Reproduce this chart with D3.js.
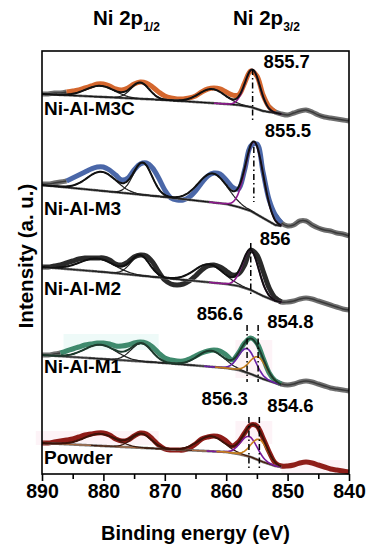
<!DOCTYPE html>
<html><head><meta charset="utf-8">
<script src="https://cdn.jsdelivr.net/npm/d3@7/dist/d3.min.js"></script>
<style>
body{margin:0;background:#fff}
svg{display:block}
text{font-family:"Liberation Sans",Arial,Helvetica,sans-serif;font-weight:bold;fill:#000}
</style>
</head><body>
<svg id="chart" width="370" height="550"></svg>
<script>
// ---------------- DATA ----------------
const energy = [890,889,888,887,886,885,884,883,882,881,880,879,878,877,876,875,874,873,872,871,870,869,868,867,866,865,864,863,862,861,860,859,858,857,856,855,854,853,852,851,850,849,848,847,846,845,844,843,842,841,840];
const sampleNames = ["Ni-Al-M3C","Ni-Al-M3","Ni-Al-M2","Ni-Al-M1","Powder"];

// raw spectra (stacked, arbitrary units)
const dataM3C = [380,380,381,381,382,383,384,386,388,390,390,388,385,384,386,390,392,391,387,382,378,376,375,375,376,378,382,385,386,385,382,379,379,391,403,398,379,367,362,360,359,361,363,364,362,359,357,356,355,354,353];
const dataM3  = [290,290,291,292,293,296,299,302,305,307,307,304,299,294,296,304,310,311,306,296,284,276,274,274,277,283,291,298,301,300,294,287,285,304,328,330,302,274,259,251,248,249,253,253,249,246,244,243,241,240,238];
const dataM2  = [207,207,208,209,211,213,215,216,216,216,216,214,210,209,212,217,219,218,212,202,194,190,189,190,193,198,204,208,209,207,203,199,200,209,224,219,203,186,176,172,172,173,175,176,175,173,171,169,167,165,164];
const dataM1  = [119,119,120,121,123,125,127,129,130,131,131,130,128,128,129,131,132,131,127,121,116,114,113,113,115,118,121,123,124,123,119,114,121,131,136,131,116,101,93,90,89,90,92,93,92,90,88,86,85,84,83];
const dataPowder = [31,31,32,33,34,35,37,39,40,41,41,39,35,33,34,38,41,40,35,29,25,24,24,24,26,30,35,37,38,37,33,28,32,41,49,48,36,22,11,8,8,9,11,12,11,9,7,5,4,3,2];

// Shirley-type backgrounds
const bgEnergy = [890,880,870,860,858,856,854,852,851];
const bgM3C = [380,377,374,370,369,367,363,361,360];
const bgM3  = [289,283,277,270,267,263,256,249,248];
const bgM2  = [207,202,196,190,188,184,178,173,172];
const bgM1  = [119,115,111,106,104,100,95,91,89];
const bgPowder = [31,28,25,22,20,17,12,8,7];

// fitted components: centre (eV), height (a.u.), FWHM (eV)
const peakCentreM3C = [880.5,874.0,862.3,855.7];
const peakHeightM3C = [11,16,14,38];
const peakFwhmM3C   = [5.5,3.5,5.0,2.9];
const peakCentreM3 = [880.3,873.6,862.2,855.4];
const peakHeightM3 = [19,32,29,71];
const peakFwhmM3   = [5.5,3.6,5.5,3.4];
const peakCentreM2 = [881.0,874.0,862.8,856.0];
const peakHeightM2 = [13,20,18,40];
const peakFwhmM2   = [6.5,3.6,5.5,3.1];
const peakCentreM1 = [880.5,873.8,862.5,856.6,854.8];
const peakHeightM1 = [14,18,16,24,20];
const peakFwhmM1   = [6.0,4.0,5.0,3.2,3.2];
const peakCentrePowder = [880.5,873.8,862.5,856.3,854.6];
const peakHeightPowder = [12,14,15,20,21];
const peakFwhmPowder   = [6.0,3.8,5.0,3.2,3.2];

// marked peak positions
const markEnergyM3C = [855.7];
const markEnergyM3 = [855.5];
const markEnergyM2 = [856];
const markEnergyM1 = [856.6,854.8];
const markEnergyPowder = [856.3,854.6];

const xTicks = [890,880,870,860,850,840];
const xMinorTicks = [885,875,865,855,845];
</script>
<script>
const M = {left:42, right:349, top:51, bottom:474};
const svg = d3.select("#chart");
const x = d3.scaleLinear().domain([890,840]).range([M.left, M.right]);
const y = d3.scaleLinear().domain([0,423]).range([M.bottom, M.top]);

const spectra = [
  {name:sampleNames[0], data:dataM3C, bg:bgM3C, c:peakCentreM3C, h:peakHeightM3C, w:peakFwhmM3C, marks:markEnergyM3C,
   color:"#d4672e", colorRange:[886,852.5], env:"#111", bgc:"#111", comp:["#222","#222","#222","#8e1a8e"],
   label:{y:115}, markY:[[405,354]], markLab:[{t:"855.7", dx:11, y:68, a:"start"}]},
  {name:sampleNames[1], data:dataM3, bg:bgM3, c:peakCentreM3, h:peakHeightM3, w:peakFwhmM3, marks:markEnergyM3,
   color:"#4a67a8", colorRange:[886,851.5], env:"#111", bgc:"#111", comp:["#222","#222","#222","#8e1a8e"],
   label:{y:215}, markY:[[327,272]], markLab:[{t:"855.5", dx:11, y:137, a:"start"}]},
  {name:sampleNames[2], data:dataM2, bg:bgM2, c:peakCentreM2, h:peakHeightM2, w:peakFwhmM2, marks:markEnergyM2,
   color:"#2a2a2a", colorRange:[890,851.5], env:"#111", bgc:"#222", comp:["#222","#222","#222","#8e1a8e"],
   label:{y:295}, markY:[[231,177]], markLab:[{t:"856", dx:9, y:245, a:"start"}]},
  {name:sampleNames[3], data:dataM1, bg:bgM1, c:peakCentreM1, h:peakHeightM1, w:peakFwhmM1, marks:markEnergyM1,
   color:"#3f8a6d", colorRange:[887,852], env:"#1c3a2c", bgc:"#333", comp:["#222","#222","#222","#6a20a8","#c27a1a"],
   label:{y:373}, markY:[[149,92],[149,92]], markLab:[{t:"856.6", dx:-4, y:320, a:"end"},{t:"854.8", dx:9, y:328, a:"start"}],
   glow:[{e:[886.5,871], v:[140,124], c:"#e3f6f4"},{e:[858.5,852.5], v:[134,96], c:"#fcebf2"}]},
  {name:sampleNames[4], data:dataPowder, bg:bgPowder, c:peakCentrePowder, h:peakHeightPowder, w:peakFwhmPowder, marks:markEnergyPowder,
   color:"#8e1c18", colorRange:[890,840], env:"#3e1208", bgc:"#a8683e", comp:["#3a1a10","#3a1a10","#3a1a10","#7a1a9a","#c8801e"],
   label:{y:464}, markY:[[57,4],[57,4]], markLab:[{t:"856.3", dx:-1, y:405, a:"end"},{t:"854.6", dx:8, y:412, a:"start"}],
   glow:[{e:[891,871], v:[43,29], c:"#fcebf2"},{e:[858.5,852.5], v:[53,30], c:"#fcebf2"},{e:[851,840], v:[14,1], c:"#fcebf2"}]}
];

function gauss(e, c, h, w){ const s = w/2.3548; return h*Math.exp(-((e-c)*(e-c))/(2*s*s)); }
const fine = d3.range(890, 850.99, -0.2);
const lineGen = d3.line().x(d=>x(d[0])).y(d=>y(d[1])).curve(d3.curveCatmullRom.alpha(0.5));

const plot = svg.append("g");

spectra.forEach(s => {
  const g = plot.append("g");
  (s.glow||[]).forEach(b=>{
    g.append("rect").attr("x", Math.max(0,x(b.e[0]))).attr("y", y(b.v[0]))
      .attr("width", Math.min(x(b.e[1]),M.right)-Math.max(0,x(b.e[0]))).attr("height", y(b.v[1])-y(b.v[0]))
      .attr("fill", b.c).attr("opacity",0.6);
  });
  const pts = energy.map((e,i)=>[e, s.data[i]]);
  const [cHi, cLo] = s.colorRange;
  const left = pts.filter(p=>p[0]>=cHi);
  const mid = pts.filter(p=>p[0]<=cHi && p[0]>=cLo-1);
  const right = pts.filter(p=>p[0]<=cLo+0.5);
  const grayStroke = seg => {
    g.append("path").attr("d", lineGen(seg)).attr("fill","none").attr("stroke","#6f6f6f").attr("stroke-width",5).attr("stroke-linejoin","round");
    g.append("path").attr("d", lineGen(seg)).attr("fill","none").attr("stroke","#3a3a3a").attr("stroke-width",1.4);
  };
  if (cHi < 890 && left.length>1) grayStroke(left);
  if (cLo > 840 && right.length>1) grayStroke(right);
  g.append("path").attr("d", lineGen(cLo<=840 ? pts : mid)).attr("fill","none")
    .attr("stroke", s.color).attr("stroke-width",5).attr("stroke-linejoin","round");

  const bgAt = d3.scaleLinear().domain(bgEnergy).range(s.bg);
  const bgPts = fine.map(e=>[e, bgAt(e)]);
  g.append("path").attr("d", lineGen(bgPts)).attr("fill","none").attr("stroke","#777").attr("stroke-width",2.6);
  g.append("path").attr("d", lineGen(bgPts)).attr("fill","none").attr("stroke",s.bgc).attr("stroke-width",1.2);
  s.c.forEach((c,k)=>{
    const lo = c - 2.2*s.w[k], hi = c + 2.2*s.w[k];
    const cp = fine.filter(e=>e>=lo && e<=hi).map(e=>[e, bgAt(e)+gauss(e,c,s.h[k],s.w[k])]);
    g.append("path").attr("d", lineGen(cp)).attr("fill","none").attr("stroke", s.comp[k]).attr("stroke-width", k>=3?1.6:1.2);
  });
  const envPts = fine.map(e=>[e, bgAt(e)+d3.sum(s.c, (c,k)=>gauss(e,c,s.h[k],s.w[k]))]);
  g.append("path").attr("d", lineGen(envPts)).attr("fill","none").attr("stroke", s.env).attr("stroke-width",2);

  s.marks.forEach((m,k)=>{
    g.append("line").attr("x1",x(m)).attr("x2",x(m)).attr("y1",y(s.markY[k][0])).attr("y2",y(s.markY[k][1]))
      .attr("stroke","#000").attr("stroke-width",1.5).attr("stroke-dasharray","6,3,1.5,3");
    const L = s.markLab[k];
    svg.append("text").attr("x", x(m)+L.dx).attr("y", L.y).attr("text-anchor", L.a).attr("font-size",18.5).text(L.t);
  });
  svg.append("text").attr("x",44).attr("y",s.label.y).attr("font-size",19).text(s.name);
});

// frame
svg.append("rect").attr("x",M.left).attr("y",M.top).attr("width",M.right-M.left).attr("height",M.bottom-M.top)
  .attr("fill","none").attr("stroke","#000").attr("stroke-width",1.6);

// x axis
const ax = svg.append("g").attr("transform",`translate(0,${M.bottom})`)
  .call(d3.axisBottom(x).tickValues(xTicks).tickSize(7).tickSizeOuter(0).tickPadding(3).tickFormat(d3.format("d")));
ax.select(".domain").remove();
ax.selectAll(".tick line").attr("stroke","#000").attr("stroke-width",1.6);
ax.selectAll(".tick text").attr("font-size",19.5).attr("font-family",null).style("font-weight","bold").attr("fill","#000");
const axm = svg.append("g").attr("transform",`translate(0,${M.bottom})`)
  .call(d3.axisBottom(x).tickValues(xMinorTicks).tickSize(5).tickFormat(""));
axm.select(".domain").remove();
axm.selectAll(".tick line").attr("stroke","#000").attr("stroke-width",1.6);

// axis titles
svg.append("text").attr("x",(M.left+M.right)/2).attr("y",540).attr("text-anchor","middle").attr("font-size",20).text("Binding energy (eV)");
svg.append("text").attr("transform","translate(33,256) rotate(-90)").attr("text-anchor","middle").attr("font-size",20.5).text("Intensity (a. u.)");

// top labels
[["Ni 2p","1/2",93],["Ni 2p","3/2",233]].forEach(t=>{
  const tx = svg.append("text").attr("x",t[2]).attr("y",25).attr("font-size",20.5);
  tx.append("tspan").text(t[0]);
  tx.append("tspan").attr("font-size",12).attr("dy",6).text(t[1]);
});
</script>
</body></html>
